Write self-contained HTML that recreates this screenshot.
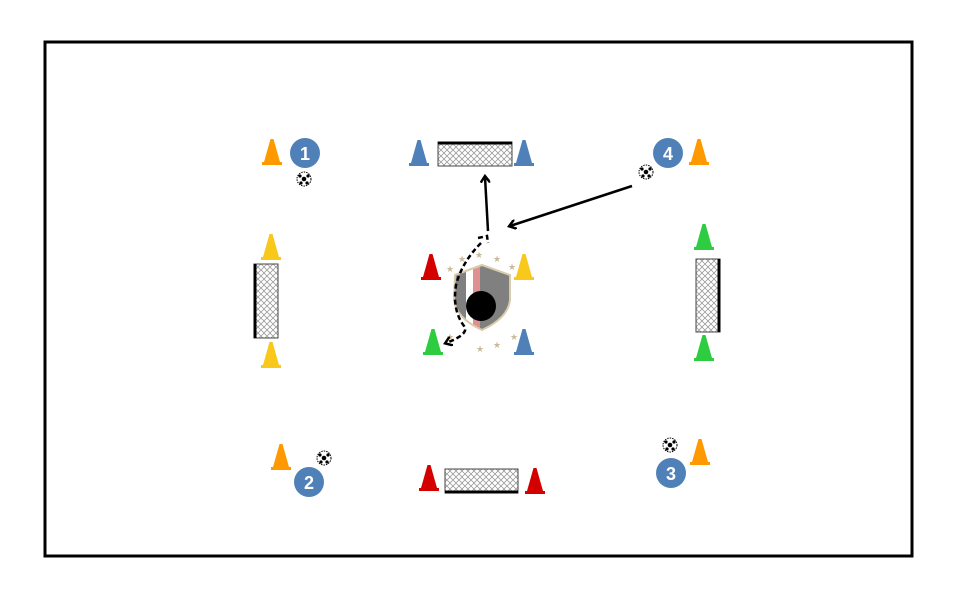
<!DOCTYPE html>
<html><head><style>body{margin:0;background:#fff}svg{display:block}</style></head><body>
<svg width="960" height="600" xmlns="http://www.w3.org/2000/svg" font-family="Liberation Sans, sans-serif">
<defs>
<pattern id="net" width="6" height="6" patternUnits="userSpaceOnUse"><rect width="6" height="6" fill="#fff"/><path d="M0 3L3 0L6 3L3 6Z" fill="none" stroke="#999" stroke-width="0.8"/></pattern>
<marker id="ah" markerWidth="10" markerHeight="10" refX="6" refY="5" orient="auto" markerUnits="userSpaceOnUse"><path d="M0 0L7 5L0 10" fill="none" stroke="#000" stroke-width="2.5"/></marker>
<g id="ball"><circle r="7" fill="#fff" stroke="#000" stroke-width="1" stroke-dasharray="1.5 1"/><circle r="2.3" fill="#000"/><circle cx="-4" cy="-3" r="1.6" fill="#000"/><circle cx="4" cy="-3" r="1.6" fill="#000"/><circle cx="-3" cy="4" r="1.6" fill="#000"/><circle cx="3" cy="4" r="1.6" fill="#000"/></g>
<path id="cone" d="M-10 0L-10 -3L-8 -3L-1.5 -26L1.5 -26L8 -3L10 -3L10 0Z"/>
<clipPath id="sh"><path d="M455 275L482 265L510 275L510 300Q508 318 482 330Q456 318 454 300Z"/></clipPath>
</defs>
<rect x="45" y="42" width="867" height="514" fill="#fff" stroke="#000" stroke-width="3"/>
<!-- goals -->
<rect x="438" y="142" width="74" height="24" fill="url(#net)" stroke="#444" stroke-width="1"/><line x1="438" y1="143" x2="512" y2="143" stroke="#000" stroke-width="3"/>
<rect x="254" y="264" width="24" height="74" fill="url(#net)" stroke="#444" stroke-width="1"/><line x1="255" y1="264" x2="255" y2="338" stroke="#000" stroke-width="3"/>
<rect x="696" y="259" width="24" height="73" fill="url(#net)" stroke="#444" stroke-width="1"/><line x1="719" y1="259" x2="719" y2="332" stroke="#000" stroke-width="3"/>
<rect x="445" y="469" width="73" height="24" fill="url(#net)" stroke="#444" stroke-width="1"/><line x1="445" y1="492" x2="518" y2="492" stroke="#000" stroke-width="3"/>
<!-- cones -->
<g fill="#f90"><use href="#cone" x="272" y="165"/><use href="#cone" x="699" y="165"/><use href="#cone" x="281" y="470"/><use href="#cone" x="700" y="465"/></g>
<g fill="#4f81b8"><use href="#cone" x="419" y="166"/><use href="#cone" x="524" y="166"/><use href="#cone" x="524" y="355"/></g>
<g fill="#f8c81c"><use href="#cone" x="271" y="260"/><use href="#cone" x="271" y="368"/><use href="#cone" x="524" y="280"/></g>
<g fill="#2ecc40"><use href="#cone" x="704" y="250"/><use href="#cone" x="704" y="361"/><use href="#cone" x="433" y="355"/></g>
<g fill="#d40000"><use href="#cone" x="431" y="280"/><use href="#cone" x="429" y="491"/><use href="#cone" x="535" y="494"/></g>
<!-- logo -->
<g>
<g clip-path="url(#sh)">
<rect x="450" y="260" width="65" height="75" fill="#808080"/>
<rect x="466" y="260" width="7" height="75" fill="#fff"/>
<rect x="473" y="260" width="7" height="75" fill="#e09090"/>
</g>
<path d="M455 275L482 265L510 275L510 300Q508 318 482 330Q456 318 454 300Z" fill="none" stroke="#d8ccaa" stroke-width="2"/>
<g fill="#c8bc98" font-size="9"><text x="458" y="262">★</text><text x="475" y="258">★</text><text x="493" y="262">★</text><text x="508" y="270">★</text><text x="446" y="272">★</text><text x="446" y="340">★</text><text x="476" y="352">★</text><text x="493" y="348">★</text><text x="510" y="340">★</text></g>
<circle cx="481" cy="306" r="15" fill="#000"/>
</g>
<!-- arrows -->
<line x1="632" y1="186" x2="510" y2="226" stroke="#000" stroke-width="2.5" marker-end="url(#ah)"/>
<line x1="488" y1="231" x2="485" y2="177" stroke="#000" stroke-width="2.5" marker-end="url(#ah)"/>
<path d="M478 238L487 236L488 243M481 243Q462 262 456 285Q452 310 464 326Q470 334 446 343" fill="none" stroke="#000" stroke-width="2.5" stroke-dasharray="5 3" marker-end="url(#ah)"/>
<!-- players -->
<g fill="#4f81b8"><circle cx="305" cy="153" r="15"/><circle cx="668" cy="153" r="15"/><circle cx="309" cy="482" r="15"/><circle cx="671" cy="473" r="15"/></g>
<g fill="#fff" font-weight="bold" font-size="18" text-anchor="middle"><text x="305" y="160">1</text><text x="668" y="160">4</text><text x="309" y="489">2</text><text x="671" y="480">3</text></g>
<use href="#ball" x="304" y="179"/><use href="#ball" x="646" y="172"/><use href="#ball" x="324" y="458"/><use href="#ball" x="670" y="445"/>
</svg>
</body></html>
